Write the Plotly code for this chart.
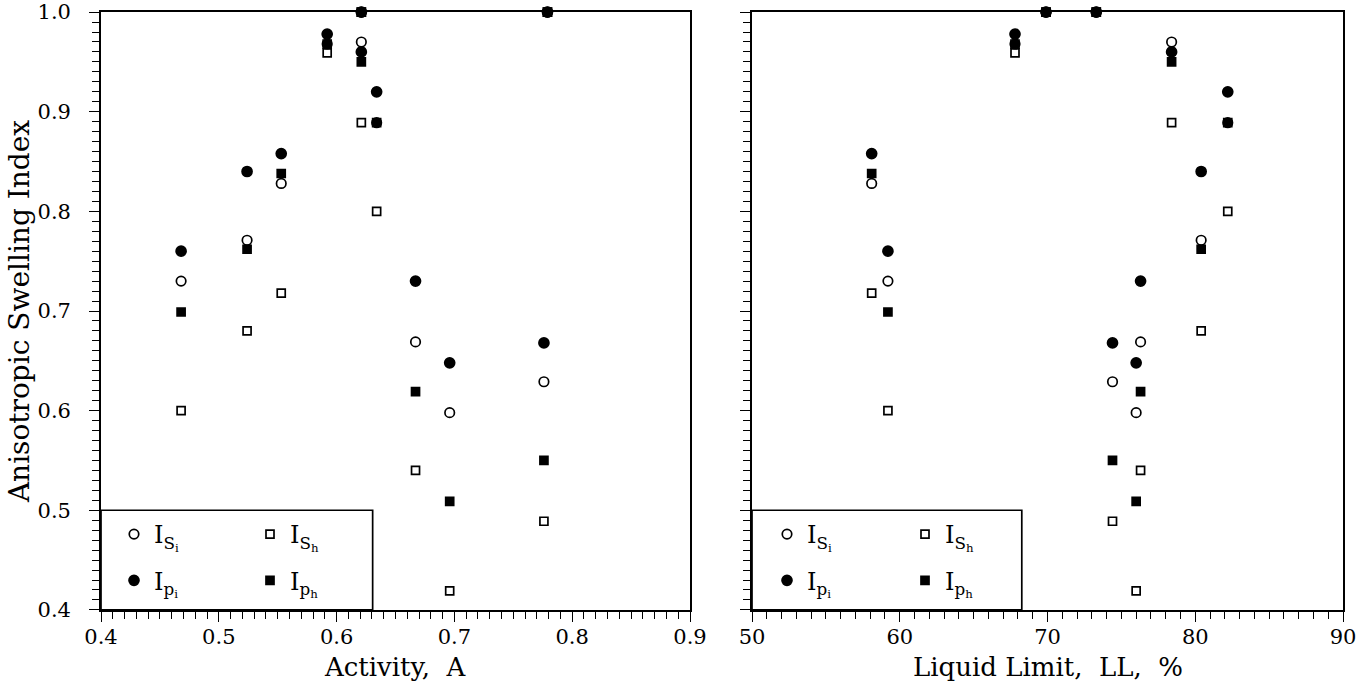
import plotly.graph_objects as go

# Soil samples: activity A and liquid limit LL (%)
activity = [0.468, 0.524, 0.553, 0.592, 0.621, 0.634, 0.667, 0.696, 0.776, 0.621, 0.779]
liquid_limit = [59.2, 80.4, 58.1, 67.8, 78.4, 82.2, 76.3, 76.0, 74.4, 69.9, 73.3]

# Anisotropic swelling indices for each soil
is_i = [0.730, 0.771, 0.828, 0.968, 0.970, 0.889, 0.669, 0.598, 0.629, 1.0, 1.0]
is_h = [0.600, 0.680, 0.718, 0.959, 0.889, 0.800, 0.540, 0.419, 0.489, 1.0, 1.0]
ip_i = [0.760, 0.840, 0.858, 0.978, 0.960, 0.920, 0.730, 0.648, 0.668, 1.0, 1.0]
ip_h = [0.699, 0.762, 0.838, 0.968, 0.950, 0.889, 0.619, 0.509, 0.550, 1.0, 1.0]

x_ticks_a = [0.4, 0.5, 0.6, 0.7, 0.8, 0.9]
x_ticks_ll = [50, 60, 70, 80, 90]
y_ticks = [0.4, 0.5, 0.6, 0.7, 0.8, 0.9, 1.0]

FONT = "DejaVu Serif"
W, H = 1372, 681

series = [
    # name, values, symbol, size, legend column (0 = left, 1 = right), rank
    ("I<sub>S<sub>i</sub></sub>", is_i, "circle-open", 9.5, 0, 1),
    ("I<sub>S<sub>h</sub></sub>", is_h, "square-open", 8, 1, 1),
    ("I<sub>p<sub>i</sub></sub>", ip_i, "circle", 10, 0, 2),
    ("I<sub>p<sub>h</sub></sub>", ip_h, "square", 8, 1, 2),
]
draw_order = [1, 0, 3, 2]

fig = go.Figure()

panels = [
    ("x", activity, ["legend", "legend2"]),
    ("x2", liquid_limit, ["legend3", "legend4"]),
]
for xa, xs, legends in panels:
    for k in draw_order:
        name, vals, sym, size, col, rank = series[k]
        filled = not sym.endswith("open")
        fig.add_trace(go.Scatter(
            x=xs, y=vals, mode="markers", name=name,
            xaxis=xa, yaxis="y" if xa == "x" else "y2",
            legend=legends[col], legendrank=rank, legendgroup=f"{xa}{k}",
            cliponaxis=False,
            marker=dict(
                symbol=sym.replace("-open", ""), size=size,
                color="black" if filled else "white",
                line=dict(color="black", width=1.7),
            ),
        ))

ydom = [1 - 610 / H, 1 - 12 / H]
y_range = [0.3999, 1.0001]
axis_common = dict(
    showline=True, linecolor="black", linewidth=1.7, mirror=True,
    ticks="outside", ticklen=10, tickwidth=1.4, tickcolor="black",
    showgrid=False, zeroline=False, automargin=False,
    ticklabeloverflow="allow",
    tickfont=dict(family=FONT, size=21, color="black"),
)
minor = dict(ticks="outside", ticklen=7, tickwidth=1.2, tickcolor="black", showgrid=False)

legend_style = dict(
    bgcolor="rgba(0,0,0,0)", borderwidth=0,
    font=dict(family=FONT, size=24, color="black"),
    orientation="v", xanchor="left", yanchor="top",
    tracegroupgap=12, itemwidth=30,
)

fig.update_layout(
    width=W, height=H,
    margin=dict(l=0, r=0, t=0, b=0, autoexpand=False),
    paper_bgcolor="white", plot_bgcolor="white",
    font=dict(family=FONT, color="black"),
    xaxis=dict(
        domain=[101 / W, 690 / W], range=[0.4, 0.9], tickvals=x_ticks_a,
        tickformat=".1f", minor=dict(dtick=0.01, **minor), ticklabelstandoff=-3,
        anchor="y", **axis_common,
    ),
    yaxis=dict(
        domain=ydom, range=y_range, tickvals=y_ticks, tickformat=".1f",
        minor=dict(dtick=0.01, **minor), ticklabelstandoff=14,
        title=dict(text="Anisotropic Swelling Index", font=dict(family=FONT, size=28), standoff=0),
        anchor="x", **axis_common,
    ),
    xaxis2=dict(
        domain=[752 / W, 1343 / W], range=[50, 90], tickvals=x_ticks_ll,
        minor=dict(dtick=1, **minor), ticklabelstandoff=-3,
        anchor="y2", **axis_common,
    ),
    yaxis2=dict(
        domain=ydom, range=y_range, tickvals=y_ticks, showticklabels=False,
        minor=dict(dtick=0.01, **minor),
        anchor="x2", **axis_common,
    ),
    legend=dict(x=114 / W, y=1 - 512 / H, **legend_style),
    legend2=dict(x=250 / W, y=1 - 512 / H, **legend_style),
    legend3=dict(x=767 / W, y=1 - 512 / H, **legend_style),
    legend4=dict(x=905 / W, y=1 - 512 / H, **legend_style),
    showlegend=True,
)

# Axis titles under each panel
for xref, text in [("x domain", "Activity,  A"), ("x2 domain", "Liquid Limit,  LL,  %")]:
    fig.add_annotation(
        xref=xref, yref="paper", x=0.5, y=-0.004, xanchor="center", yanchor="bottom",
        text=text, showarrow=False, font=dict(family=FONT, size=26, color="black"),
    )

# Frames enclosing the symbol keys
fig.add_shape(type="rect", xref="x", yref="y", x0=0.4, x1=0.6306, y0=0.4, y1=0.5,
              line=dict(color="black", width=1.7))
fig.add_shape(type="rect", xref="x2", yref="y2", x0=50, x1=68.26, y0=0.4, y1=0.5,
              line=dict(color="black", width=1.7))

fig.write_html("out.html")
